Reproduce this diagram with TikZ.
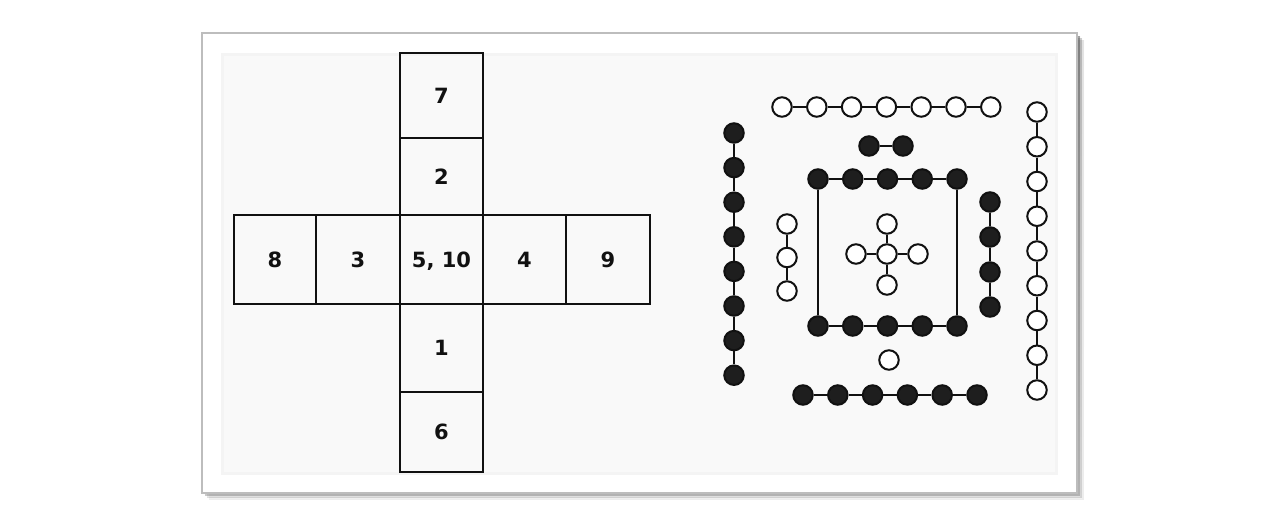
\documentclass[tikz,border=0pt]{standalone}
\usepackage{fontspec}
\setsansfont{DejaVu Sans}
\begin{document}
\begin{tikzpicture}[
    x=1pt, y=-1pt,
    font=\sffamily\bfseries\fontsize{21}{25}\selectfont,
    cell/.style={draw=ink, line width=2.2pt, minimum width=83pt, inner sep=0pt, text depth=0pt, text=ink},
    yin/.style={circle, draw=ink, fill=dot, line width=2pt, minimum size=19.5pt, inner sep=0pt},
    yang/.style={circle, draw=ink, fill=white, line width=2pt, minimum size=19.5pt, inner sep=0pt},
    link/.style={draw=ink, line width=2.6pt}
]
\definecolor{ink}{HTML}{111111}
\definecolor{dot}{HTML}{1E1E1E}
\definecolor{paper}{HTML}{F9F9F9}
\definecolor{rim}{HTML}{BDBDBD}
\definecolor{shade}{HTML}{8C8C8C}

\useasboundingbox (0,0) rectangle (1288,522);

% frame with drop shadow
\foreach \o/\op in {7/0.08,5/0.15,3/0.3}
  \fill[shade, opacity=\op] (202+\o,33+\o) rectangle (1077+\o,493+\o);
\filldraw[fill=white, draw=rim, line width=2pt] (202,33) rectangle (1077,493);
\fill[paper!60!gray!20] (221,53) rectangle (1058,475);
\fill[paper] (224,56) rectangle (1055,472);

% (a) the unfolded cube
\node[cell, minimum height=85pt] (c7) at (441.5,95.5) {7};
\node[cell, minimum height=77pt] (c2) at (441.5,176.5) {2};
\node[cell, minimum height=89pt] (c5) at (441.5,259.5) {5, 10};
\node[cell, minimum height=88pt] (c1) at (441.5,348) {1};
\node[cell, minimum height=80pt] (c6) at (441.5,432) {6};
\node[cell, minimum height=89pt, minimum width=82pt] (c8) at (275,259.5) {8};
\node[cell, minimum height=89pt, minimum width=84pt] (c3) at (358,259.5) {3};
\node[cell, minimum height=89pt] (c4) at (524.5,259.5) {4};
\node[cell, minimum height=89pt, minimum width=84pt] (c9) at (608,259.5) {9};

% (b) the river chart, white = odd, black = even
\foreach \n in {1,...,7}
  \node[yang] (wt\n) at ({782+34.8*(\n-1)},107) {};
\foreach \n in {1,...,8}
  \node[yin] (bl\n) at (734,{133+34.6*(\n-1)}) {};
\node[yin] (bp1) at (869,146) {};
\node[yin] (bp2) at (903,146) {};
\foreach \n in {1,...,5} {
  \node[yin] (st\n) at ({818+34.75*(\n-1)},179) {};
  \node[yin] (sb\n) at ({818+34.75*(\n-1)},326) {};
}
\foreach \n in {1,...,3}
  \node[yang] (wl\n) at (787,{224+33.5*(\n-1)}) {};
\node[yang] (cc) at (887,254) {};
\node[yang] (cn) at (887,224) {};
\node[yang] (cs) at (887,285) {};
\node[yang] (cw) at (856,254) {};
\node[yang] (ce) at (918,254) {};
\foreach \n in {1,...,4}
  \node[yin] (br\n) at (990,{202+35*(\n-1)}) {};
\node[yang] (ws) at (889,360) {};
\foreach \n in {1,...,6}
  \node[yin] (bb\n) at ({803+34.8*(\n-1)},395) {};
\foreach \n in {1,...,9}
  \node[yang] (wr\n) at (1037,{112+34.75*(\n-1)}) {};

% strings
\foreach \n [evaluate=\n as \p using int(\n-1)] in {2,...,7}
  \draw[link] (wt\p) -- (wt\n);
\foreach \n [evaluate=\n as \p using int(\n-1)] in {2,...,8}
  \draw[link] (bl\p) -- (bl\n);
\draw[link] (bp1) -- (bp2);
\foreach \n [evaluate=\n as \p using int(\n-1)] in {2,...,5} {
  \draw[link] (st\p) -- (st\n);
  \draw[link] (sb\p) -- (sb\n);
}
\draw[link] (st1) -- (sb1);
\draw[link] (st5) -- (sb5);
\foreach \n [evaluate=\n as \p using int(\n-1)] in {2,...,3}
  \draw[link] (wl\p) -- (wl\n);
\foreach \d in {cn,cs,cw,ce}
  \draw[link] (cc) -- (\d);
\foreach \n [evaluate=\n as \p using int(\n-1)] in {2,...,4}
  \draw[link] (br\p) -- (br\n);
\foreach \n [evaluate=\n as \p using int(\n-1)] in {2,...,6}
  \draw[link] (bb\p) -- (bb\n);
\foreach \n [evaluate=\n as \p using int(\n-1)] in {2,...,9}
  \draw[link] (wr\p) -- (wr\n);
\end{tikzpicture}
\end{document}
